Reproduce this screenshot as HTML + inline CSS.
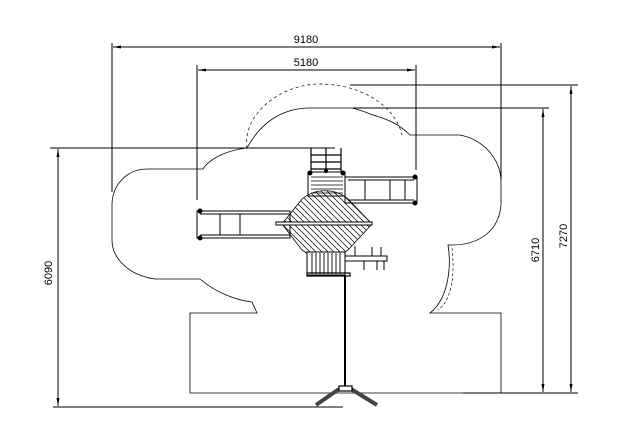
<!DOCTYPE html>
<html><head><meta charset="utf-8"><style>html,body{margin:0;padding:0;background:#fff}svg{display:block}</style></head>
<body>
<svg width="625" height="436" viewBox="0 0 625 436" xmlns="http://www.w3.org/2000/svg" font-family="Liberation Sans, sans-serif" font-size="11" fill="none" stroke="#000" stroke-width="1">
<defs>
<marker id="a" markerWidth="8" markerHeight="6" refX="8" refY="3" orient="auto-start-reverse" markerUnits="userSpaceOnUse"><path d="M0,1.5 L8,3 L0,4.5z" fill="#000" stroke="none"/></marker>
</defs>
<line x1="112" y1="43" x2="112" y2="192"/>
<line x1="501" y1="43" x2="501" y2="180"/>
<line x1="113" y1="47" x2="500" y2="47" marker-start="url(#a)" marker-end="url(#a)"/>
<text x="306" y="43" fill="#000" stroke="none" text-anchor="middle">9180</text>
<line x1="197" y1="65" x2="197" y2="200"/>
<line x1="416" y1="65" x2="416" y2="170"/>
<line x1="198" y1="70" x2="415" y2="70" marker-start="url(#a)" marker-end="url(#a)"/>
<text x="306" y="66" fill="#000" stroke="none" text-anchor="middle">5180</text>
<line x1="350" y1="85" x2="578" y2="85"/>
<line x1="353" y1="108" x2="549" y2="108"/>
<line x1="571" y1="86" x2="571" y2="392" marker-start="url(#a)" marker-end="url(#a)"/>
<line x1="543" y1="109" x2="543" y2="392" marker-start="url(#a)" marker-end="url(#a)"/>
<line x1="463" y1="393" x2="578" y2="393"/>
<text transform="translate(567,236) rotate(-90)" fill="#000" stroke="none" text-anchor="middle">7270</text>
<text transform="translate(539,250) rotate(-90)" fill="#000" stroke="none" text-anchor="middle">6710</text>
<line x1="50" y1="148" x2="335" y2="148"/>
<line x1="53" y1="407" x2="343" y2="407"/>
<line x1="58" y1="149" x2="58" y2="406" marker-start="url(#a)" marker-end="url(#a)"/>
<text transform="translate(52,273) rotate(-90)" fill="#000" stroke="none" text-anchor="middle">6090</text>
<path d="M247,148 C242,115 280,84 320,84 C360,84 395,105 402,135" stroke-dasharray="3,3" stroke-width="0.7"/>
<path d="M147,169 L203,169 C210,158 228,150 247,148 C262,120 285,108 310,108 L352,108 C360,110 368,113 373,115 C390,120 400,125 410,135 L460,135 C485,140 500,160 501,180 L501,205 C499,230 480,245 452,245 L448,245 C452,270 447,300 430,313 L501,313 L501,393 L190,393 L190,313 L257,313 L252,302 C235,300 215,292 200,279 L155,279 C128,275 112,258 112,240 L112,205 C112,185 127,169 147,169 Z" stroke-width="0.8"/>
<path d="M452,248 C455,275 452,300 438,310" stroke-dasharray="3,2" stroke-width="0.6"/>
<g stroke-width="1.2">
<line x1="311" y1="148" x2="311" y2="172"/><line x1="326" y1="148" x2="326" y2="172"/><line x1="341" y1="148" x2="341" y2="172"/>
<line x1="311" y1="155" x2="341" y2="155"/><line x1="311" y1="162" x2="341" y2="162"/><line x1="311" y1="169" x2="341" y2="169"/>
</g>
<rect x="308" y="172" width="37" height="24"/>
<g stroke-width="0.8"><line x1="311" y1="177" x2="343" y2="177"/><line x1="311" y1="181" x2="343" y2="181"/><line x1="311" y1="185" x2="343" y2="185"/><line x1="311" y1="189" x2="343" y2="189"/><line x1="311" y1="193" x2="343" y2="193"/></g>
<circle cx="310" cy="173" r="2" fill="#000"/><circle cx="343" cy="173" r="2" fill="#000"/><circle cx="326" cy="171" r="1.5" fill="#000"/>
<rect x="345" y="177" width="72" height="26"/>
<line x1="348" y1="180" x2="414" y2="180"/><line x1="348" y1="200" x2="414" y2="200"/>
<line x1="365" y1="180" x2="365" y2="200"/><line x1="390" y1="180" x2="390" y2="200"/><line x1="405" y1="180" x2="405" y2="200"/>
<circle cx="415" cy="177" r="2" fill="#000"/><circle cx="415" cy="203" r="2" fill="#000"/>
<rect x="197" y="211" width="93" height="27"/>
<line x1="200" y1="214" x2="290" y2="214"/><line x1="200" y1="235" x2="290" y2="235"/>
<line x1="220" y1="214" x2="220" y2="235"/><line x1="240" y1="214" x2="240" y2="235"/>
<circle cx="200" cy="211" r="2" fill="#000"/><circle cx="200" cy="238" r="2" fill="#000"/>
<clipPath id="c"><path d="M282,224 L302,199 C315,188 335,188 348,199 L372,224 L348,250 C335,260 315,260 302,250 Z"/></clipPath>
<g clip-path="url(#c)" stroke-width="0.7">
<path d="M250,180 l80,80 M256,180 l80,80 M262,180 l80,80 M268,180 l80,80 M274,180 l80,80 M280,180 l80,80 M286,180 l80,80 M292,180 l80,80 M298,180 l80,80 M304,180 l80,80 M310,180 l80,80 M316,180 l80,80 M322,180 l80,80 M328,180 l80,80 M334,180 l80,80 M340,180 l80,80 M244,180 l80,80 M238,180 l80,80 M232,180 l80,80 M226,180 l80,80"/>
</g>
<path d="M282,224 L302,199 C315,188 335,188 348,199 L372,224 L348,250 C335,260 315,260 302,250 Z" stroke-width="0.8"/>
<rect x="276" y="222" width="96" height="3" fill="#fff"/>
<rect x="307" y="252" width="38" height="23" fill="#fff"/>
<g stroke-width="0.9"><line x1="312" y1="253" x2="312" y2="274"/><line x1="316" y1="253" x2="316" y2="274"/><line x1="320" y1="253" x2="320" y2="274"/><line x1="324" y1="253" x2="324" y2="274"/><line x1="328" y1="253" x2="328" y2="274"/><line x1="332" y1="253" x2="332" y2="274"/><line x1="336" y1="253" x2="336" y2="274"/><line x1="340" y1="253" x2="340" y2="274"/></g>
<rect x="307" y="273" width="43" height="3" stroke-width="1.2"/>
<rect x="345" y="256" width="42" height="5"/>
<line x1="355" y1="246" x2="355" y2="256"/><line x1="372" y1="247" x2="372" y2="256"/><line x1="381" y1="247" x2="381" y2="256"/>
<line x1="364" y1="261" x2="364" y2="270"/><line x1="377" y1="261" x2="377" y2="270"/><line x1="384" y1="261" x2="384" y2="270"/>
<line x1="345" y1="276" x2="345" y2="388" stroke-width="2"/>
<path d="M339,389 L316,405 M351,389 L377,405" stroke-width="4" stroke="#444"/>
<rect x="339" y="386" width="13" height="5" fill="#fff" stroke-width="1.2"/>
</svg>
</body></html>
